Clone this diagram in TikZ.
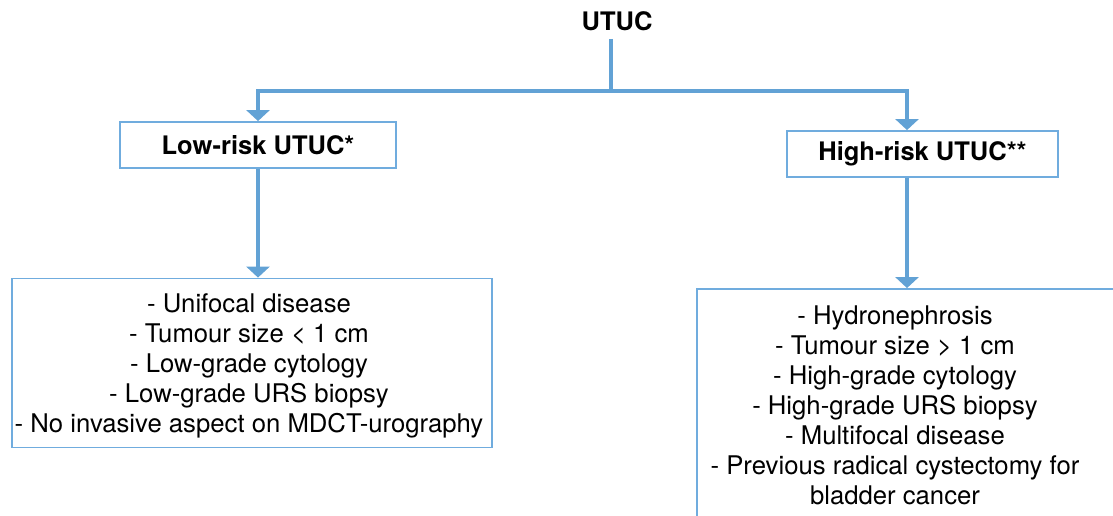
\documentclass[tikz,border=0pt]{standalone}
\usepackage{fontspec}
\setmainfont{TeX Gyre Heros}
\usetikzlibrary{arrows.meta}
\definecolor{conn}{RGB}{98,162,213}
\definecolor{bord}{RGB}{112,172,222}
\tikzset{
  conline/.style={draw=conn, line width=4.5pt, -{Triangle[width=23pt,length=11pt]}},
  conplain/.style={draw=conn, line width=4.5pt},
  box/.style={draw=bord, line width=1.8pt, rectangle, inner sep=0pt},
  boldtxt/.style={font=\fontsize{25.5}{28}\selectfont\bfseries},
  listtxt/.style={font=\fontsize{25.7}{30}\selectfont, align=center, inner sep=0pt}
}
\begin{document}
\begin{tikzpicture}[x=1pt,y=-1pt]
\useasboundingbox (0,0) rectangle (1113,516);
\clip (0,0) rectangle (1113,516);
\node[boldtxt] (utuc) at (617,21) {UTUC};
\coordinate (utucb) at (611,39);
\coordinate (split) at (611,91);
% low-risk
\node[box, minimum width=276pt, minimum height=46pt, boldtxt] (low) at (258,145) {Low-risk UTUC*};
\node[box, minimum width=480pt, minimum height=169pt] (lowbox) at (252,363) {};
\node[listtxt] (lowtxt) at (249,366) {- Unifocal disease\\- Tumour size < 1 cm\\- Low-grade cytology\\- Low-grade URS biopsy\\- No invasive aspect on MDCT-urography};
% high-risk
\node[box, minimum width=271pt, minimum height=46pt, boldtxt] (high) at (922.5,154) {High-risk UTUC**};
\node[box, minimum width=423pt, minimum height=260pt] (highbox) at (908.5,419) {};
\node[listtxt] (hightxt) at (895,405) {- Hydronephrosis\\- Tumour size > 1 cm\\- High-grade cytology\\- High-grade URS biopsy\\- Multifocal disease\\- Previous radical cystectomy for\\bladder cancer};
% connectors
\draw[conplain] (utucb) -- (split);
\draw[conline] (split) -| (low.north);
\draw[conline] (split) -| ([xshift=-15.5pt]high.north);
\draw[conline] (low.south) -- (low.south |- lowbox.north);
\draw[conline] ([xshift=-15.5pt]high.south) -- ([xshift=-15.5pt]high.south |- highbox.north);
\end{tikzpicture}
\end{document}
